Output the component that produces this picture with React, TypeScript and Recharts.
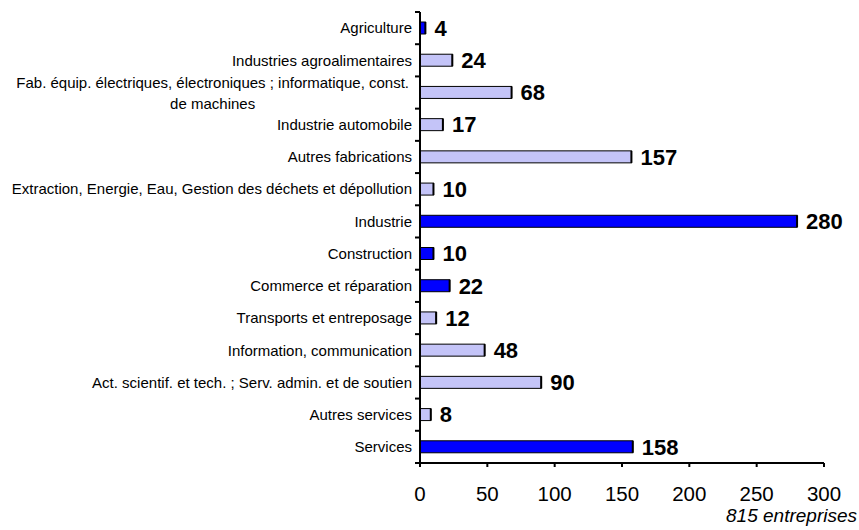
import React from 'react';
import { BarChart, Bar, XAxis, YAxis, LabelList, Cell } from 'recharts';

const categories = [
  'Agriculture',
  'Industries agroalimentaires',
  'Fab. équip. électriques, électroniques ; informatique, const.\nde machines',
  'Industrie automobile',
  'Autres fabrications',
  'Extraction, Energie, Eau, Gestion des déchets et dépollution',
  'Industrie',
  'Construction',
  'Commerce et réparation',
  'Transports et entreposage',
  'Information, communication',
  'Act. scientif. et tech. ; Serv. admin. et de soutien',
  'Autres services',
  'Services',
];
const values = [4, 24, 68, 17, 157, 10, 280, 10, 22, 12, 48, 90, 8, 158];
// true = secteur principal (barre bleu foncé)
const isMain = [true, false, false, false, false, false, true, true, true, false, false, false, false, true];
const xTicks = [0, 50, 100, 150, 200, 250, 300];

const data = categories.map((name, i) => ({ name, value: values[i], main: isMain[i] }));

const FONT = '"Liberation Sans", Arial, sans-serif';
const W = 859;
const H = 530;
const M_TOP = 12;
const X_AXIS_H = 67;
const BAND = (H - M_TOP - X_AXIS_H) / categories.length;

const CategoryTick = (props: any) => {
  const { x, y, payload, index } = props;
  const axisX = Number(x) + 8;
  const cy = Number(y);
  const lines: string[] = String(payload.value).split('\n');
  // tick marks sit between categories, not at their centres
  const up = cy - BAND / 2;
  const down = cy + BAND / 2;
  const marks = (
    <>
      <path d={`M${axisX - 5},${up}H${axisX}`} stroke="#000" strokeWidth={2} />
      {index === categories.length - 1 && <path d={`M${axisX - 5},${down}H${axisX}`} stroke="#000" strokeWidth={2} />}
    </>
  );
  if (lines.length === 1) {
    return (
      <g>
        {marks}
        <text x={x} y={y} dy="0.35em" textAnchor="end" fontSize={15} fontFamily={FONT} fill="#000">
          {lines[0]}
        </text>
      </g>
    );
  }
  // multi-line label: centred block, right edge at the tick
  const ctx = document.createElement('canvas').getContext('2d');
  let w = 390;
  if (ctx) {
    ctx.font = `15px ${FONT}`;
    w = Math.max(...lines.map((l) => ctx.measureText(l).width));
  }
  const cx = x - 3 - w / 2;
  return (
    <g>
      {marks}
      <text x={cx} y={y} textAnchor="middle" fontSize={15} fontFamily={FONT} fill="#000">
        {lines.map((l, i) => (
          <tspan key={i} x={cx} dy={i === 0 ? '-0.3em' : 21}>
            {l}
          </tspan>
        ))}
      </text>
    </g>
  );
};

const BarShape = (props: any) => {
  const { x, y, width, height, fill } = props;
  return (
    <g>
      <rect x={x} y={y} width={width} height={height} fill={fill} stroke="#000" strokeWidth={1} />
      <line x1={x + width} y1={y} x2={x + width} y2={y + height} stroke="#000" strokeWidth={2} />
    </g>
  );
};

const App: React.FC = () => {
  return (
    <div style={{ position: 'absolute', left: 0, top: 0, width: W, height: H, background: '#fff' }}>
      <BarChart
        width={W}
        height={H}
        data={data}
        layout="vertical"
        margin={{ top: M_TOP, right: 35, bottom: 0, left: 0 }}
      >
        <XAxis
          type="number"
          domain={[0, 300]}
          ticks={xTicks}
          interval={0}
          height={X_AXIS_H}
          tickSize={4}
          tickMargin={19}
          axisLine={{ stroke: '#000', strokeWidth: 2 }}
          tickLine={{ stroke: '#000', strokeWidth: 2 }}
          tick={{ fill: '#000', fontSize: 20.5, fontFamily: FONT }}
        />
        <YAxis
          type="category"
          dataKey="name"
          width={420}
          interval={0}
          tickSize={4}
          tickMargin={4}
          axisLine={{ stroke: '#000', strokeWidth: 2 }}
          tickLine={false}
          tick={<CategoryTick />}
        />
        <Bar dataKey="value" barSize={12} shape={<BarShape />} isAnimationActive={false}>
          {data.map((d, i) => (
            <Cell key={`c-${i}`} fill={d.main ? '#0000FF' : '#C4C4F8'} />
          ))}
          <LabelList
            dataKey="value"
            position="right"
            offset={9}
            fill="#000"
            fontSize={22}
            fontWeight="bold"
            fontFamily={FONT}
          />
        </Bar>
      </BarChart>
      <div
        style={{
          position: 'absolute',
          right: 2,
          top: 506,
          fontFamily: FONT,
          fontStyle: 'italic',
          fontSize: 19,
          lineHeight: '20px',
          color: '#000',
        }}
      >
        815 entreprises
      </div>
    </div>
  );
};

export default App;
